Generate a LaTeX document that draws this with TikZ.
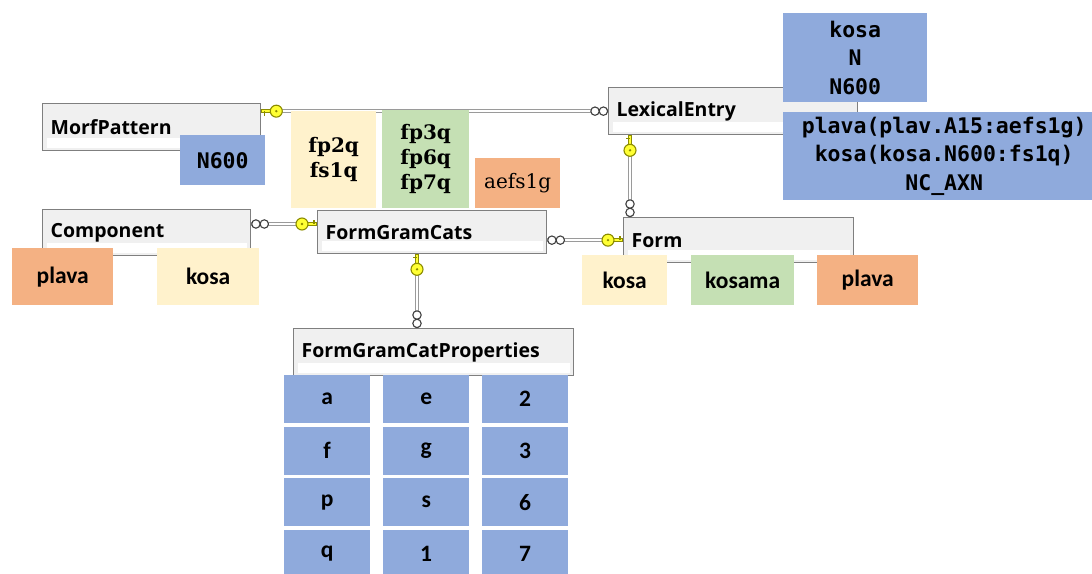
\documentclass[tikz,border=0pt]{standalone}
\usepackage{fontspec}
\setmainfont{Open Sans}
\newfontfamily\codefont{DejaVu Sans Mono}
\newfontfamily\cellfont{Carlito}
\newfontfamily\tagfont{DejaVu Serif}
\usetikzlibrary{calc,matrix}
\definecolor{tblrim}{HTML}{7F7F7F}
\definecolor{tblfill}{HTML}{F0F0F0}
\definecolor{lightblue}{HTML}{8FAADC}
\definecolor{cream}{HTML}{FFF2CC}
\definecolor{lightgreen}{HTML}{C5E0B4}
\definecolor{salmon}{HTML}{F4B183}
\definecolor{keyfill}{HTML}{FFFF33}
\definecolor{keyrim}{HTML}{8C8C00}
\definecolor{relline}{HTML}{9A9A9A}
\tikzstyle{entity} = [draw=tblrim, fill=tblfill, line width=1.3pt, minimum height=47pt, inner xsep=8pt, inner ysep=0pt, align=left, anchor=north west, font=\bfseries\fontsize{19.5}{22}\selectfont, path picture={\fill[white] ([xshift=4pt,yshift=3pt]path picture bounding box.south west) rectangle ([xshift=-4pt,yshift=13pt]path picture bounding box.south east);}]
\tikzstyle{cell} = [minimum width=85pt, minimum height=50pt, inner sep=0pt, anchor=north west, align=center]
\tikzset{
  codecell/.style ={cell, fill=lightblue, font=\codefont\bfseries\fontsize{21.5}{28.5}\selectfont},
  tagcell/.style ={cell, font=\tagfont\bfseries\fontsize{20}{25}\selectfont},
  wordcell/.style ={cell, font=\cellfont\bfseries\fontsize{23.5}{26}\selectfont},
  propcell/.style ={wordcell, fill=lightblue, minimum width=86pt, minimum height=48pt, anchor=center},
  relation/.style ={draw=relline, line width=1pt, double=white, double distance=1.8pt},
  keyend/.pic={
    \draw[keyrim, line width=3.6pt] (0,0) -- (10,0);
    \draw[keyfill, line width=1.8pt] (0.8,0) -- (10,0);
    \draw[keyrim, line width=1.2pt] (3,0) -- (3,4.5);
    \filldraw[fill=keyfill, draw=keyrim, line width=1.1pt] (15,0) circle (6pt);
    \fill[keyrim] (15,0) circle (1.3pt);
  },
  manyend/.pic={
    \draw[black!75, fill=white, line width=1.1pt] (4.6,0) circle (4.2pt) (13,0) circle (4.2pt);
  }
}
\begin{document}
\begin{tikzpicture}[x=1pt, y=-1pt]
 \useasboundingbox (0,0) rectangle (1092,573);
 \clip (0,0) rectangle (1092,573);
 \node[entity, text width=202pt] (mp) at (42,103) {MorfPattern};
 \node[entity, text width=233pt] (le) at (608,87) {LexicalEntry};
 \node[entity, text width=192pt, minimum height=46pt] (cp) at (42,209) {Component};
 \node[entity, text width=213pt, minimum height=43pt] (fgc) at (317,210) {FormGramCats};
 \node[entity, text width=214pt, minimum height=45pt] (fm) at (623,217) {Form};
 \node[entity, text width=264pt] (props) at (293,328) {FormGramCatProperties};

 \coordinate (cpfgc) at ($(fgc.north west)+(0,14)$);
 \coordinate (lefm) at ($(fm.north west)+(7,0)$);
 \coordinate (fgcprops) at ($(props.north west)+(124,0)$);
 \begin{scope}[every path/.style=relation]
   \path (mp.east |- le.west) -- (le.west);
   \path (cp.east |- cpfgc) -- (cpfgc);
   \path (fgc.east |- fm.west) -- (fm.west);
   \path (le.south -| lefm) -- (lefm);
   \path (fgc.south -| fgcprops) -- (fgcprops);
 \end{scope}
 \pic at (mp.east |- le.west) {keyend};
 \pic[rotate=180] at (le.west) {manyend};
 \pic at (cp.east |- cpfgc) {manyend};
 \pic[rotate=180] at (cpfgc) {keyend};
 \pic at (fgc.east |- fm.west) {manyend};
 \pic[rotate=180] at (fm.west) {keyend};
 \pic[rotate=-90] at (le.south -| lefm) {keyend};
 \pic[rotate=90] at (lefm) {manyend};
 \pic[rotate=-90] at (fgc.south -| fgcprops) {keyend};
 \pic[rotate=90] at (fgcprops) {manyend};

 \node[codecell] (mpcode) at (180,135) {N600};
 \node[tagcell, fill=cream, minimum height=97pt] (tags1) at (291,111) {fp2q\\fs1q};
 \node[tagcell, fill=lightgreen, minimum width=87pt, minimum height=98pt] (tags2) at (382,110) {fp3q\\fp6q\\fp7q};
 \node[tagcell, fill=salmon, font=\tagfont\fontsize{20}{25}\selectfont] (tags3) at (475,158) {aefs1g};
 \node[codecell, minimum width=144pt, minimum height=89pt] (lemma) at (783,13) {kosa\\N\\N600};
 \node[codecell, minimum width=322pt, minimum height=88pt] (parts) at (783,112) {plava(plav.A15:aefs1g)\\kosa(kosa.N600:fs1q)\\NC\_AXN};
 \node[wordcell, fill=salmon, minimum width=101pt, minimum height=57pt] (cpw1) at (12,248) {plava};
 \node[wordcell, fill=cream, minimum width=102pt, minimum height=57pt] (cpw2) at (157,248) {kosa};
 \node[wordcell, fill=cream] (fmw1) at (582,255) {kosa};
 \node[wordcell, fill=lightgreen, minimum width=103pt] (fmw2) at (691,255) {kosama};
 \node[wordcell, fill=salmon, minimum width=101pt] (fmw3) at (817,255) {plava};
 \matrix (grid) [column sep=13pt, row sep=3.5pt, anchor=north west, inner sep=0pt] at (284,375) {
    \node[propcell] (pa) {a}; & \node[propcell] (pe) {e}; & \node[propcell] (p2) {2}; \\
    \node[propcell] (pf) {f}; & \node[propcell] (pg) {g}; & \node[propcell] (p3) {3}; \\
    \node[propcell] (pp) {p}; & \node[propcell] (ps) {s}; & \node[propcell] (p6) {6}; \\
    \node[propcell] (pq) {q}; & \node[propcell] (p1) {1}; & \node[propcell] (p7) {7}; \\
 };
\end{tikzpicture}
\end{document}
